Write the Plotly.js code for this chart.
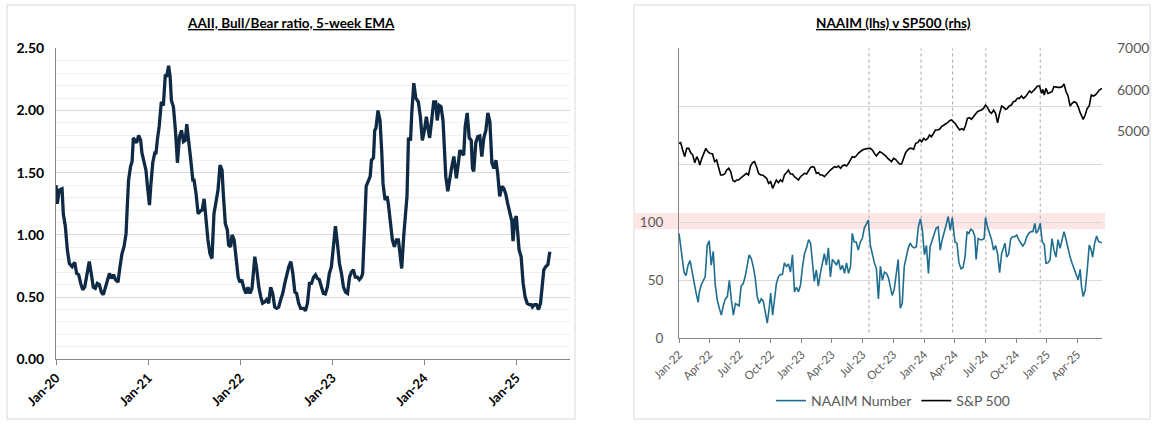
<!DOCTYPE html>
<html>
<head>
<meta charset="utf-8">
<script src="https://cdn.plot.ly/plotly-3.0.1.min.js"></script>
<style>
  html, body { margin: 0; padding: 0; background: #ffffff; }
  #chart { width: 1154px; height: 427px; }
</style>
</head>
<body>
<div id="chart"></div>
<script>
// ---------- Left chart: AAII Bull/Bear ratio, 5-week EMA ----------
const aaiiDates = [
"2020-01-01","2020-01-06","2020-01-14","2020-01-25","2020-01-30","2020-02-07","2020-02-15","2020-02-23","2020-03-05","2020-03-15",
"2020-03-23","2020-03-31","2020-04-08","2020-04-16","2020-04-24","2020-05-04","2020-05-12","2020-05-20","2020-05-28","2020-06-05",
"2020-06-13","2020-06-21","2020-06-29","2020-07-07","2020-07-15","2020-07-23","2020-07-31","2020-08-08","2020-08-16","2020-08-24",
"2020-09-03","2020-09-11","2020-09-19","2020-09-27","2020-10-05","2020-10-10","2020-10-15","2020-10-23","2020-10-29","2020-11-03",
"2020-11-11","2020-11-16","2020-11-24","2020-12-02","2020-12-07","2020-12-15","2020-12-23","2020-12-29","2021-01-06","2021-01-11",
"2021-01-19","2021-01-27","2021-02-01","2021-02-06","2021-02-14","2021-02-22","2021-03-02","2021-03-10","2021-03-15","2021-03-23",
"2021-03-29","2021-04-03","2021-04-11","2021-04-19","2021-04-27","2021-05-05","2021-05-13","2021-05-21","2021-05-28","2021-06-03",
"2021-06-11","2021-06-19","2021-06-27","2021-07-02","2021-07-10","2021-07-18","2021-07-26","2021-08-03","2021-08-11","2021-08-19",
"2021-08-26","2021-09-03","2021-09-11","2021-09-19","2021-09-27","2021-10-05","2021-10-13","2021-10-21","2021-10-26","2021-11-03",
"2021-11-11","2021-11-16","2021-11-24","2021-11-30","2021-12-08","2021-12-16","2021-12-24","2021-12-31","2022-01-07","2022-01-16",
"2022-01-24","2022-02-01","2022-02-09","2022-02-17","2022-02-22","2022-02-28","2022-03-08","2022-03-16","2022-03-24","2022-03-31",
"2022-04-08","2022-04-16","2022-04-24","2022-05-02","2022-05-10","2022-05-18","2022-05-26","2022-06-03","2022-06-11","2022-06-19",
"2022-06-27","2022-07-05","2022-07-13","2022-07-21","2022-07-29","2022-08-06","2022-08-13","2022-08-21","2022-08-29","2022-09-09",
"2022-09-17","2022-09-25","2022-10-03","2022-10-11","2022-10-19","2022-10-27","2022-11-03","2022-11-11","2022-11-19","2022-11-27",
"2022-12-05","2022-12-13","2022-12-21","2022-12-29","2023-01-06","2023-01-14","2023-01-22","2023-01-30","2023-02-07","2023-02-15",
"2023-02-23","2023-03-03","2023-03-11","2023-03-18","2023-03-26","2023-04-03","2023-04-11","2023-04-19","2023-04-27","2023-05-02",
"2023-05-10","2023-05-16","2023-05-24","2023-06-01","2023-06-06","2023-06-14","2023-06-19","2023-06-24","2023-07-02","2023-07-10",
"2023-07-17","2023-07-22","2023-07-30","2023-08-07","2023-08-12","2023-08-20","2023-08-28","2023-09-05","2023-09-13","2023-09-21",
"2023-09-26","2023-10-04","2023-10-12","2023-10-18","2023-10-25","2023-10-31","2023-11-08","2023-11-13","2023-11-21","2023-11-29",
"2023-12-09","2023-12-17","2023-12-25","2024-01-02","2024-01-10","2024-01-18","2024-01-23","2024-01-31","2024-02-08","2024-02-16",
"2024-02-22","2024-03-01","2024-03-08","2024-03-16","2024-03-22","2024-03-27","2024-04-04","2024-04-12","2024-04-20","2024-04-28",
"2024-05-08","2024-05-16","2024-05-22","2024-05-29","2024-06-06","2024-06-12","2024-06-20","2024-06-28","2024-07-06","2024-07-11",
"2024-07-16","2024-07-24","2024-08-01","2024-08-09","2024-08-17","2024-08-25","2024-09-02","2024-09-10","2024-09-18","2024-09-26",
"2024-10-04","2024-10-12","2024-10-19","2024-10-27","2024-11-04","2024-11-12","2024-11-20","2024-11-28","2024-12-06","2024-12-14",
"2024-12-19","2024-12-25","2025-01-01","2025-01-07","2025-01-12","2025-01-20","2025-01-28","2025-02-05","2025-02-13","2025-02-21",
"2025-03-01","2025-03-06","2025-03-14","2025-03-22","2025-03-30","2025-04-07","2025-04-15","2025-04-20","2025-04-28","2025-05-06",
"2025-05-14"
];
const aaiiRatio = [
1.40,1.25,1.36,1.37,1.17,1.07,0.88,0.77,0.745,0.78,
0.69,0.68,0.61,0.56,0.58,0.69,0.785,0.69,0.58,0.57,
0.61,0.60,0.54,0.52,0.57,0.64,0.69,0.65,0.68,0.64,
0.62,0.745,0.85,0.905,1.01,1.23,1.44,1.55,1.59,1.78,
1.76,1.74,1.80,1.76,1.66,1.60,1.52,1.39,1.24,1.39,
1.58,1.66,1.66,1.76,1.88,2.07,2.04,2.29,2.27,2.36,
2.27,2.08,2.03,1.84,1.58,1.79,1.84,1.75,1.76,1.89,
1.76,1.60,1.44,1.44,1.33,1.17,1.19,1.20,1.29,1.07,
0.96,0.85,0.81,1.17,1.25,1.36,1.56,1.52,1.33,1.09,
1.04,0.92,0.905,1.00,0.96,0.80,0.66,0.62,0.64,0.57,
0.53,0.58,0.53,0.57,0.73,0.825,0.72,0.58,0.50,0.45,
0.46,0.48,0.45,0.58,0.53,0.42,0.41,0.42,0.48,0.53,
0.61,0.69,0.745,0.785,0.69,0.54,0.53,0.45,0.41,0.41,
0.39,0.45,0.61,0.61,0.66,0.68,0.65,0.64,0.58,0.53,
0.525,0.58,0.69,0.745,0.905,1.07,0.93,0.77,0.69,0.58,
0.54,0.53,0.66,0.70,0.72,0.66,0.66,0.64,0.66,0.69,
1.07,1.39,1.43,1.47,1.60,1.62,1.84,1.86,2.00,1.92,
1.66,1.41,1.28,1.31,1.25,1.12,0.96,0.905,0.96,0.96,
0.85,0.73,0.99,1.12,1.31,1.78,1.76,1.98,2.22,2.10,
2.07,1.95,1.76,1.84,1.95,1.84,1.78,1.92,2.07,2.07,
1.92,2.04,2.03,1.92,1.68,1.47,1.35,1.47,1.55,1.63,
1.455,1.58,1.68,1.66,1.64,1.87,1.98,1.78,1.76,1.535,
1.51,1.74,1.79,1.795,1.63,1.78,1.84,1.98,1.91,1.58,
1.535,1.60,1.495,1.31,1.39,1.375,1.33,1.25,1.17,1.11,
0.95,1.12,1.15,1.01,0.88,0.825,0.61,0.50,0.45,0.44,
0.44,0.42,0.44,0.44,0.40,0.45,0.64,0.72,0.745,0.76,
0.865
];
const leftTickVals = ["2020-01-01","2021-01-01","2022-01-01","2023-01-01","2024-01-01","2025-01-01"];
const leftTickText = ["Jan-20","Jan-21","Jan-22","Jan-23","Jan-24","Jan-25"];

// ---------- Right chart: NAAIM (lhs) v SP500 (rhs) ----------
const naaimDates = [
"2022-01-01","2022-01-06","2022-01-12","2022-01-16","2022-01-22","2022-01-28","2022-02-03","2022-02-09","2022-02-15","2022-02-21",
"2022-02-27","2022-03-02","2022-03-08","2022-03-14","2022-03-20","2022-03-26","2022-04-01","2022-04-07","2022-04-13","2022-04-19",
"2022-04-25","2022-05-01","2022-05-07","2022-05-13","2022-05-19","2022-05-25","2022-05-31","2022-06-06","2022-06-12","2022-06-18",
"2022-06-23","2022-06-29","2022-07-05","2022-07-11","2022-07-17","2022-07-23","2022-07-29","2022-08-04","2022-08-10","2022-08-16",
"2022-08-22","2022-08-28","2022-09-03","2022-09-09","2022-09-15","2022-09-21","2022-09-27","2022-10-01","2022-10-07","2022-10-13",
"2022-10-18","2022-10-24","2022-10-30","2022-11-05","2022-11-11","2022-11-17","2022-11-23","2022-11-29","2022-12-05","2022-12-11",
"2022-12-17","2022-12-23","2022-12-29","2023-01-04","2023-01-10","2023-01-16","2023-01-22","2023-01-28","2023-02-03","2023-02-08",
"2023-02-14","2023-02-20","2023-02-26","2023-03-04","2023-03-10","2023-03-16","2023-03-22","2023-03-28","2023-04-03","2023-04-09",
"2023-04-15","2023-04-21","2023-04-27","2023-05-03","2023-05-09","2023-05-15","2023-05-21","2023-05-27","2023-06-01","2023-06-07",
"2023-06-13","2023-06-19","2023-06-25","2023-07-01","2023-07-07","2023-07-13","2023-07-19","2023-07-25","2023-07-31","2023-08-06",
"2023-08-12","2023-08-18","2023-08-24","2023-08-30","2023-09-05","2023-09-11","2023-09-17","2023-09-22","2023-09-28","2023-10-04",
"2023-10-10","2023-10-16","2023-10-22","2023-10-28","2023-11-03","2023-11-09","2023-11-15","2023-11-21","2023-11-27","2023-12-03",
"2023-12-09","2023-12-15","2023-12-21","2023-12-27","2024-01-02","2024-01-08","2024-01-14","2024-01-19","2024-01-25","2024-01-31",
"2024-02-06","2024-02-12","2024-02-18","2024-02-24","2024-03-01","2024-03-07","2024-03-13","2024-03-19","2024-03-25","2024-03-29",
"2024-04-02","2024-04-08","2024-04-14","2024-04-20","2024-04-26","2024-05-02","2024-05-08","2024-05-13","2024-05-19","2024-05-25",
"2024-05-31","2024-06-04","2024-06-10","2024-06-16","2024-06-22","2024-06-28","2024-07-02","2024-07-08","2024-07-14","2024-07-20",
"2024-07-26","2024-08-01","2024-08-07","2024-08-13","2024-08-19","2024-08-25","2024-08-29","2024-09-03","2024-09-09","2024-09-15",
"2024-09-21","2024-09-27","2024-10-03","2024-10-09","2024-10-15","2024-10-21","2024-10-27","2024-11-02","2024-11-08","2024-11-14",
"2024-11-20","2024-11-26","2024-11-30","2024-12-06","2024-12-12","2024-12-18","2024-12-24","2024-12-29","2025-01-04","2025-01-10",
"2025-01-16","2025-01-22","2025-01-28","2025-02-03","2025-02-09","2025-02-15","2025-02-21","2025-02-27","2025-03-05","2025-03-11",
"2025-03-17","2025-03-23","2025-03-29","2025-04-04","2025-04-10","2025-04-14","2025-04-19","2025-04-25","2025-05-01","2025-05-07",
"2025-05-13","2025-05-17","2025-05-23","2025-05-29","2025-06-04","2025-06-10","2025-06-14"
];
const naaimNumber = [
90.5,80,65,57,54,63,67,57,47,39,
31,39,46,49,53,80,84,63,75,46,
33,26,20,28,34,36,50,33,20,30,
29,28,45,47,53,62,72,69,62,52,
36,30,34,32,24,13,27,39,20,36,
47,53,55,55,65,62,64,57,72,40,
44,40,46,62,73,78,85,82,63,49,
59,45,56,65,73,63,78,53,68,66,
63,68,59,63,56,65,56,62,90.5,83,
83,76,83,86,95,98.5,102,80,72,65,
60,34,62,50,57,56,52,45,37,42,
53,68,26,30,62,70,78,82,79,78,
79,96,103,93,72,80,56,79,85,89,
95,96,76,85,93,98,105,93,104,93,
83,82,65,60,61,70,92,90,94,93,
88,68,86,85,85,86,104,96,90,85,
76,80,73,56.5,73,79,82,70,72.6,86,
87.6,87.6,89,85,82,79.6,82,87.6,90.5,92,
92,99,90.5,93,99,83,81,64.6,65,67.5,
86,76,70,85,77.5,86,92,85,76,70,
64.6,60.3,56,50.3,59.5,44.5,36,41.6,58.9,80.4,
76,70,81.9,88.2,83.3,82.4,82.4
];
const spxDates = [
"2022-01-01","2022-01-06","2022-01-12","2022-01-18","2022-01-24","2022-01-30","2022-02-05","2022-02-11","2022-02-17","2022-02-23",
"2022-02-28","2022-03-04","2022-03-10","2022-03-16","2022-03-22","2022-03-28","2022-04-03","2022-04-11","2022-04-17","2022-04-23",
"2022-04-29","2022-05-05","2022-05-11","2022-05-17","2022-05-23","2022-05-29","2022-06-04","2022-06-10","2022-06-16","2022-06-22",
"2022-06-27","2022-07-03","2022-07-09","2022-07-15","2022-07-21","2022-07-27","2022-08-02","2022-08-08","2022-08-14","2022-08-20",
"2022-08-26","2022-09-01","2022-09-07","2022-09-13","2022-09-19","2022-09-25","2022-10-01","2022-10-07","2022-10-13","2022-10-18",
"2022-10-24","2022-10-30","2022-11-05","2022-11-11","2022-11-17","2022-11-23","2022-11-29","2022-12-05","2022-12-11","2022-12-17",
"2022-12-23","2022-12-29","2023-01-04","2023-01-10","2023-01-16","2023-01-22","2023-01-28","2023-02-03","2023-02-08","2023-02-14",
"2023-02-20","2023-02-26","2023-03-04","2023-03-10","2023-03-16","2023-03-22","2023-03-28","2023-04-03","2023-04-09","2023-04-15",
"2023-04-21","2023-04-27","2023-05-03","2023-05-09","2023-05-15","2023-05-21","2023-05-27","2023-06-01","2023-06-07","2023-06-13",
"2023-06-19","2023-06-25","2023-07-01","2023-07-07","2023-07-13","2023-07-19","2023-07-25","2023-07-31","2023-08-06","2023-08-12",
"2023-08-18","2023-08-22","2023-08-28","2023-09-03","2023-09-09","2023-09-15","2023-09-21","2023-09-26","2023-10-02","2023-10-08",
"2023-10-14","2023-10-20","2023-10-26","2023-11-01","2023-11-07","2023-11-13","2023-11-19","2023-11-25","2023-12-01","2023-12-07",
"2023-12-13","2023-12-19","2023-12-25","2023-12-31","2024-01-06","2024-01-12","2024-01-17","2024-01-23","2024-01-29","2024-02-04",
"2024-02-10","2024-02-16","2024-02-22","2024-02-28","2024-03-05","2024-03-11","2024-03-17","2024-03-23","2024-03-29","2024-04-04",
"2024-04-10","2024-04-16","2024-04-22","2024-04-28","2024-05-04","2024-05-09","2024-05-15","2024-05-21","2024-05-27","2024-06-02",
"2024-06-08","2024-06-14","2024-06-20","2024-06-26","2024-07-02","2024-07-08","2024-07-14","2024-07-20","2024-07-26","2024-08-01",
"2024-08-07","2024-08-13","2024-08-19","2024-08-25","2024-08-31","2024-09-05","2024-09-11","2024-09-17","2024-09-23","2024-09-29",
"2024-10-05","2024-10-11","2024-10-17","2024-10-23","2024-10-29","2024-11-04","2024-11-10","2024-11-16","2024-11-22","2024-11-28",
"2024-12-04","2024-12-10","2024-12-16","2024-12-20","2024-12-24","2024-12-29","2025-01-04","2025-01-10","2025-01-16","2025-01-22",
"2025-01-28","2025-02-03","2025-02-09","2025-02-15","2025-02-21","2025-02-27","2025-03-05","2025-03-11","2025-03-17","2025-03-23",
"2025-03-29","2025-04-04","2025-04-10","2025-04-16","2025-04-19","2025-04-25","2025-05-01","2025-05-07","2025-05-13","2025-05-19",
"2025-05-25","2025-05-31","2025-06-06","2025-06-14"
];
const spx500 = [
4706,4722,4545,4384,4585,4585,4480,4424,4239,4384,
4303,4183,4344,4464,4585,4505,4464,4448,4263,4303,
4143,3942,3942,3966,4062,4103,4022,3821,3781,3821,
3821,3861,3901,3942,3982,3942,4159,4239,4263,4143,
3982,3942,3942,3901,3861,3741,3781,3620,3741,3821,
3757,3821,3781,3942,3998,4062,3966,3966,3901,3861,
3821,3901,3942,3982,3966,4046,4127,4143,4127,3982,
3998,3942,3942,3901,3958,4022,4062,4103,4143,4127,
4159,4103,4159,4183,4159,4223,4303,4384,4368,4400,
4464,4505,4545,4561,4577,4585,4585,4545,4464,4400,
4464,4505,4481,4448,4400,4344,4287,4263,4344,4320,
4263,4207,4207,4344,4481,4545,4585,4585,4561,4706,
4722,4786,4746,4826,4786,4826,4907,4867,4963,5028,
5028,5044,5108,5148,5172,5204,5253,5269,5229,5172,
5092,5028,5060,5028,5148,5309,5325,5285,5349,5414,
5470,5494,5510,5550,5631,5575,5470,5430,5510,5430,
5204,5430,5607,5575,5526,5550,5607,5631,5711,5727,
5792,5792,5848,5792,5832,5896,5968,5928,5992,6033,
6089,6089,5912,6008,5872,6033,5912,5928,5952,6073,
6057,6057,6057,6073,6137,5952,5848,5607,5671,5711,
5687,5591,5446,5333,5285,5390,5550,5607,5872,5848,
5872,5928,5992,6033
];
const rightTickVals = ["2022-01-01","2022-04-01","2022-07-01","2022-10-01","2023-01-01","2023-04-01","2023-07-01",
  "2023-10-01","2024-01-01","2024-04-01","2024-07-01","2024-10-01","2025-01-01","2025-04-01"];
const rightTickText = ["Jan-22","Apr-22","Jul-22","Oct-22","Jan-23","Apr-23","Jul-23",
  "Oct-23","Jan-24","Apr-24","Jul-24","Oct-24","Jan-25","Apr-25"];
const naaimAxisVals = [0,50,100,150,200,250];
const naaimAxisText = ["0","50","100","","",""];
const spxAxisVals = [5000,6000,7000];
const markerDates = ["2023-07-21","2023-12-23","2024-03-26","2024-07-03","2024-12-12"];

// ---------- Build figure ----------
const W = 1154, H = 427;
const px = v => v / W;
const py = v => 1 - v / H;
const FONT = "Lato, 'Open Sans', sans-serif";
const GREY = "#595959";

const traces = [
  {
    x: aaiiDates, y: aaiiRatio, xaxis: "x", yaxis: "y",
    type: "scatter", mode: "lines", name: "AAII Bull/Bear",
    line: { color: "#0f2a44", width: 3.3 }, showlegend: false, hoverinfo: "x+y"
  },
  {
    x: naaimDates, y: naaimNumber, xaxis: "x2", yaxis: "y2",
    type: "scatter", mode: "lines", name: "NAAIM Number",
    line: { color: "#1f6d8f", width: 1.6 }
  },
  {
    x: spxDates, y: spx500, xaxis: "x2", yaxis: "y3",
    type: "scatter", mode: "lines", name: "S&P 500",
    line: { color: "#000000", width: 1.6 }
  }
];

const shapes = [
  { type: "rect", xref: "paper", yref: "paper", x0: px(7), x1: px(575), y0: py(419), y1: py(5),
    line: { color: "#d9d9d9", width: 1 }, fillcolor: "rgba(0,0,0,0)", layer: "below" },
  { type: "rect", xref: "paper", yref: "paper", x0: px(634), x1: px(1150), y0: py(419), y1: py(5),
    line: { color: "#d9d9d9", width: 1 }, fillcolor: "rgba(0,0,0,0)", layer: "below" },
  { type: "rect", xref: "paper", yref: "y2", x0: px(634), x1: px(1105), y0: 94, y1: 108,
    line: { width: 0 }, fillcolor: "#fce6e6", layer: "below" }
];
markerDates.forEach(d => shapes.push({
  type: "line", xref: "x2", yref: "y2", x0: d, x1: d, y0: 5, y1: 250,
  line: { color: "#a6a6a6", width: 1, dash: "dot" }, layer: "below"
}));

const layout = {
  width: W, height: H,
  margin: { l: 0, r: 0, t: 0, b: 0 },
  paper_bgcolor: "#ffffff", plot_bgcolor: "rgba(0,0,0,0)",
  font: { family: FONT, color: "#000000" },
  showlegend: true,
  legend: {
    orientation: "h", x: px(893), xanchor: "center", y: py(401), yanchor: "middle",
    font: { family: FONT, size: 14, color: GREY }, itemwidth: 30, bgcolor: "rgba(0,0,0,0)"
  },
  xaxis: {
    domain: [px(56), px(570)], anchor: "y", type: "date",
    range: ["2020-01-01", "2025-08-02"],
    tickmode: "array", tickvals: leftTickVals, ticktext: leftTickText, tickangle: -45,
    tickfont: { family: FONT, size: 13, color: "#000000", weight: "bold" },
    showline: true, linecolor: "#868686", linewidth: 1,
    ticks: "outside", ticklen: 5, tickcolor: "#868686",
    showgrid: false, zeroline: false, automargin: false, fixedrange: true
  },
  yaxis: {
    domain: [py(359.3), py(48.3)], anchor: "x",
    range: [0, 2.5], tick0: 0, dtick: 0.5, tickformat: ".2f",
    tickfont: { family: FONT, size: 14, color: "#000000", weight: "bold" },
    showline: true, linecolor: "#868686", linewidth: 1,
    showgrid: true, gridcolor: "#d9d9d9", gridwidth: 1,
    minor: { tick0: 0, dtick: 0.1, showgrid: true, gridcolor: "#f0f0f0", gridwidth: 1 },
    zeroline: false, ticks: "", ticklabelstandoff: 8, automargin: false, fixedrange: true
  },
  xaxis2: {
    domain: [px(679), px(1102)], anchor: "y2", type: "date",
    range: ["2022-01-01", "2025-06-14"],
    tickmode: "array", tickvals: rightTickVals, ticktext: rightTickText, tickangle: -45,
    tickfont: { family: FONT, size: 11.5, color: GREY },
    showline: true, linecolor: "#868686", linewidth: 1,
    ticks: "outside", ticklen: 4, tickcolor: "#868686",
    showgrid: false, zeroline: false, automargin: false, fixedrange: true
  },
  yaxis2: {
    domain: [py(338.3), py(48.3)], anchor: "x2",
    range: [0, 250], tickmode: "array", tickvals: naaimAxisVals, ticktext: naaimAxisText,
    tickfont: { family: FONT, size: 13.5, color: GREY },
    showline: true, linecolor: "#868686", linewidth: 1,
    showgrid: true, gridcolor: "#d9d9d9", gridwidth: 1,
    zeroline: false, ticks: "", ticklabelstandoff: 12, automargin: false, fixedrange: true
  },
  yaxis3: {
    overlaying: "y2", side: "right", anchor: "x2",
    range: [0, 7000], tickmode: "array", tickvals: spxAxisVals,
    tickfont: { family: FONT, size: 14, color: GREY },
    showline: false, showgrid: false, zeroline: false, ticks: "",
    ticklabelstandoff: 14, automargin: false, fixedrange: true
  },
  shapes: shapes,
  annotations: [
    { text: "<b><u>AAII, Bull/Bear ratio, 5-week EMA</u></b>", xref: "paper", yref: "paper",
      x: px(291), y: py(23), xanchor: "center", yanchor: "middle", showarrow: false,
      font: { family: FONT, size: 13.5, color: "#000000" } },
    { text: "<b><u>NAAIM (lhs) v SP500 (rhs)</u></b>", xref: "paper", yref: "paper",
      x: px(893), y: py(23), xanchor: "center", yanchor: "middle", showarrow: false,
      font: { family: FONT, size: 13.5, color: "#000000" } }
  ]
};

Plotly.newPlot("chart", traces, layout, { displayModeBar: false, staticPlot: true });
</script>
</body>
</html>
